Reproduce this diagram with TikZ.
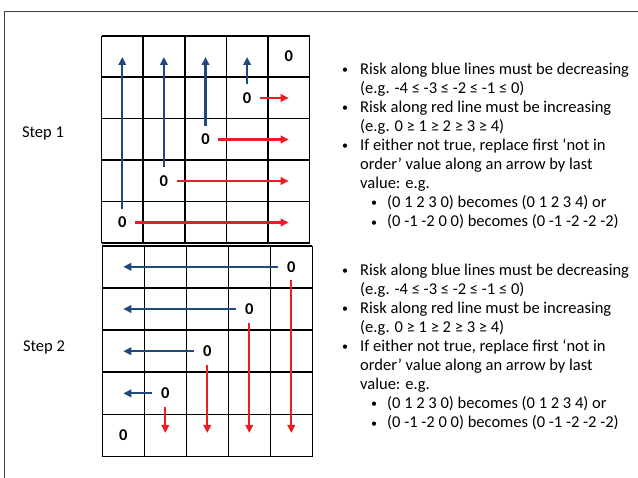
\documentclass[tikz,border=0pt]{standalone}
\usepackage{fontspec}
\setmainfont{Carlito}
\usetikzlibrary{arrows.meta}
\definecolor{riskblue}{RGB}{31,73,125}
\definecolor{riskred}{RGB}{237,28,36}

\newcommand{\dotmark}{\raisebox{0.8pt}{\fontsize{12}{12}\selectfont\textbullet}}
\newcommand{\risknotes}{%
\begin{tabular}{@{}p{18pt}@{}l@{}}
\dotmark & Risk along blue lines must be decreasing\\
 & (e.g. -4 ≤ -3 ≤ -2 ≤ -1 ≤ 0)\\
\dotmark & Risk along red line must be increasing\\
 & (e.g. 0 ≥ 1 ≥ 2 ≥ 3 ≥ 4)\\
\dotmark & If either not true, replace first ‘not in\\
 & order’ value along an arrow by last\\
 & value: e.g.\\
 & \hspace{11pt}\makebox[16pt][l]{\dotmark}(0 1 2 3 0) becomes (0 1 2 3 4) or\\
 & \hspace{11pt}\makebox[16pt][l]{\dotmark}(0 -1 -2 0 0) becomes (0 -1 -2 -2 -2)
\end{tabular}}

\begin{document}
\begin{tikzpicture}[
    x=1pt, y=-1pt,
    frame/.style={draw=black!75, line width=1pt},
    boxlines/.style={draw=black, line width=1.6pt},
    zero/.style={
        font=\fontsize{16.5}{16.5}\selectfont\bfseries,
        inner xsep=8.5pt,
        inner ysep=8pt
    },
    steplabel/.style={font=\fontsize{16.5}{19}\selectfont},
    notes/.style={
        inner sep=0pt,
        anchor=north west,
        font=\fontsize{16.5}{19.1}\selectfont
    },
    bluearr/.style={riskblue, line width=2.2pt, -{Triangle[length=8pt,width=7.5pt]}},
    redarr/.style={riskred, line width=2.2pt, -{Triangle[length=8pt,width=7.5pt]}}
]

\useasboundingbox (0,0) rectangle (638,478);
\draw[frame] (4,478) -- (4,12) -- (638,12);

% step 1 grid
\begin{scope}[shift={(101.5,35.7)}]
\draw[boxlines, xstep=41.6pt, ystep=41.5pt] (0,0) grid (208.1,207.6);
\end{scope}

\node[zero] (a4) at (288.7,56.5) {0};
\node[zero] (a3) at (247.1,98) {0};
\node[zero] (a2) at (205.5,139.5) {0};
\node[zero] (a1) at (163.9,181) {0};
\node[zero] (a0) at (122.3,222.5) {0};

\coordinate (up0) at (122.3,57);
\coordinate (up1) at (163.9,57);
\coordinate (up2) at (205.5,57);
\coordinate (up3) at (247.1,57);
\coordinate (rt3) at (288.7,98);
\coordinate (rt2) at (288.7,139.5);
\coordinate (rt1) at (288.7,181);
\coordinate (rt0) at (288.7,222.5);

\draw[bluearr] (a0.north) -- (up0);
\draw[bluearr] (a1.north) -- (up1);
\draw[bluearr] (a2.north) -- (up2);
\draw[bluearr] (a3.north) -- (up3);
\draw[redarr] (a3.east) -- (rt3);
\draw[redarr] (a2.east) -- (rt2);
\draw[redarr] (a1.east) -- (rt1);
\draw[redarr] (a0.east) -- (rt0);

% step 2 grid
\begin{scope}[shift={(102.3,245.7)}]
\draw[boxlines, xstep=42pt, ystep=42.2pt] (0,0) grid (210.1,211.1);
\end{scope}

\node[zero] (b4) at (291.3,266.8) {0};
\node[zero] (b3) at (249.3,309) {0};
\node[zero] (b2) at (207.3,351.2) {0};
\node[zero] (b1) at (165.3,393.4) {0};
\node[zero] (b0) at (123.3,435.6) {0};

\coordinate (lf4) at (123.3,266.8);
\coordinate (lf3) at (123.3,309);
\coordinate (lf2) at (123.3,351.2);
\coordinate (lf1) at (123.3,393.4);
\coordinate (dn4) at (291.3,433);
\coordinate (dn3) at (249.3,433);
\coordinate (dn2) at (207.3,433);
\coordinate (dn1) at (165.3,433);

\draw[bluearr] (b4.west) -- (lf4);
\draw[bluearr] (b3.west) -- (lf3);
\draw[bluearr] (b2.west) -- (lf2);
\draw[bluearr] (b1.west) -- (lf1);
\draw[redarr] (b4.south) -- (dn4);
\draw[redarr] (b3.south) -- (dn3);
\draw[redarr] (b2.south) -- (dn2);
\draw[redarr] (b1.south) -- (dn1);

\node[steplabel] (step1) at (43,133) {Step 1};
\node[steplabel] (step2) at (44,347) {Step 2};

\node[notes] (notes1) at (342,60.5) {\risknotes};
\node[notes] (notes2) at (342,261.5) {\risknotes};

\end{tikzpicture}
\end{document}
